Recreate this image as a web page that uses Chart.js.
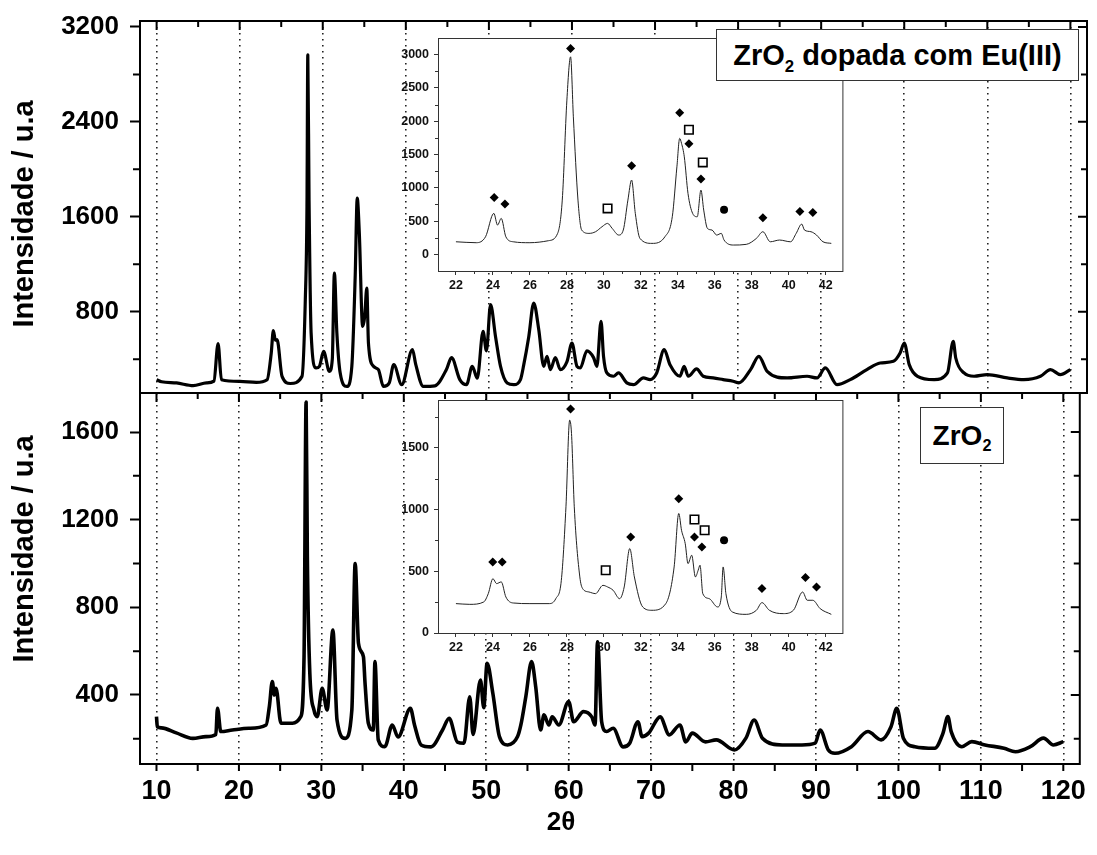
<!DOCTYPE html>
<html>
<head>
<meta charset="utf-8">
<script src="https://cdn.jsdelivr.net/npm/chart.js@4.4.1/dist/chart.umd.min.js"></script>
<style>
  body { margin: 0; background: #fff; }
  #wrap { position: relative; width: 1097px; height: 855px; overflow: hidden; font-family: "Liberation Sans", Arial, sans-serif; }
  canvas { position: absolute; }
  .lbl { position: absolute; font-weight: bold; color: #000; white-space: nowrap; }
  .ytitle { font-size: 29px; transform: translate(-50%, -50%) rotate(-90deg); }
  .box { position: absolute; background: #fff; border: 1px solid #333; display: flex; align-items: center; justify-content: center; font-weight: bold; color: #000; white-space: nowrap; }
  .box sub { font-size: 0.58em; vertical-align: -0.4em; line-height: 0; }
</style>
</head>
<body>
<div id="wrap">
  <canvas id="topChart" width="1097" height="396" style="left:0;top:0"></canvas>
  <canvas id="bottomChart" width="1097" height="462" style="left:0;top:393px"></canvas>
  <canvas id="inset1" width="458" height="270" style="left:392px;top:30px"></canvas>
  <canvas id="inset2" width="458" height="270" style="left:392px;top:392px"></canvas>
  <div class="box" style="left:716px;top:29px;width:361px;height:50px;font-size:29px"><span>ZrO<sub>2</sub> dopada com Eu(III)</span></div>
  <div class="box" style="left:920px;top:407px;width:82px;height:55px;font-size:28px"><span>ZrO<sub>2</sub></span></div>
  <div class="lbl ytitle" style="left:23px;top:214px">Intensidade / u.a</div>
  <div class="lbl ytitle" style="left:23px;top:549px">Intensidade / u.a</div>
  <div class="lbl" style="left:561px;top:821px;font-size:26px;transform:translate(-50%,-50%)">2θ</div>
</div>
<script>
// XRD scans: [2theta, intensity]
const dopedScan = [
  [10, 227], [10.6, 210], [12.4, 200], [14.4, 177], [16, 200], [16.9, 215], [17.4, 531], [17.8, 227],
  [20, 213], [22, 205], [23.3, 227], [23.8, 452], [24.05, 640], [24.3, 560], [24.5, 564], [25.1, 255],
  [26.1, 195], [27.5, 255], [27.9, 901], [28.1, 1687], [28.2, 2964], [28.35, 1743], [28.6, 620],
  [29.2, 326], [29.6, 340], [30.1, 465], [30.8, 297], [31.15, 400], [31.4, 1126], [31.7, 620],
  [32.1, 283], [32.9, 170], [33.5, 340], [33.9, 1086], [34.15, 1757], [34.4, 1465], [34.8, 676],
  [35.05, 760], [35.3, 999], [35.5, 536], [36.1, 340], [36.7, 312], [37.3, 170], [38, 200],
  [38.55, 355], [39.5, 185], [40.8, 480], [41.2, 354], [42.1, 170], [43.5, 175], [44.9, 315],
  [45.5, 413], [46.5, 228], [47.3, 185], [48, 340], [48.6, 240], [49.3, 634], [49.7, 470],
  [50.2, 859], [50.8, 590], [51.4, 340], [52.2, 200], [53, 185], [53.8, 228], [54.2, 354],
  [54.8, 590], [55.4, 873], [56, 650], [56.6, 340], [57, 424], [57.4, 312], [58, 413], [58.6, 312],
  [59.4, 380], [60, 536], [60.6, 340], [61, 326], [61.8, 470], [62.6, 413], [63, 340], [63.5, 718],
  [63.8, 424], [64.2, 284], [65, 256], [65.6, 284], [66.6, 200], [67.4, 185], [68.6, 242],
  [69.4, 228], [70.2, 284], [71.1, 480], [71.8, 354], [73, 256], [73.5, 340], [74, 256], [75, 318],
  [75.8, 256], [77, 242], [78.2, 228], [79.4, 214], [80.1, 200], [81.5, 312], [82.5, 424],
  [83.5, 298], [85.9, 242], [88.3, 256], [89.5, 242], [90.5, 326], [91.9, 186], [93.5, 228],
  [95.5, 312], [97.1, 368], [98.7, 382], [99.5, 452], [100, 536], [100.6, 354], [101.6, 256],
  [103.6, 228], [105.2, 284], [105.9, 550], [106.2, 410], [107.2, 284], [108.4, 256], [110, 270],
  [112.4, 242], [114.4, 228], [116.4, 256], [117.6, 312], [118.8, 270], [120, 312]
];

const pureScan = [
  [10, 301], [10.1, 255], [10.6, 250], [12.4, 227], [14.4, 202], [16, 210], [17.2, 220], [17.4, 339],
  [17.8, 233], [19.2, 240], [21.2, 248], [23.3, 263], [23.7, 350], [24.05, 461], [24.3, 400],
  [24.5, 430], [25.1, 271], [26.5, 271], [27.5, 301], [27.9, 575], [28.15, 1737], [28.3, 1030],
  [28.6, 500], [29.1, 332], [29.5, 301], [30.1, 430], [30.7, 332], [31.4, 696], [31.9, 286],
  [32.9, 202], [33.7, 332], [34.1, 1000], [34.5, 636], [35.1, 575], [35.3, 453], [35.7, 271],
  [36.3, 240], [36.5, 552], [36.9, 195], [37.7, 164], [38.6, 263], [39.3, 208], [40.8, 339],
  [41.3, 263], [42.1, 172], [43.3, 163], [44.7, 240], [45.5, 294], [46.5, 185], [47.3, 180],
  [48, 392], [48.4, 220], [49.3, 468], [49.7, 342], [50.1, 545], [50.8, 408], [51.6, 210],
  [52.6, 172], [53.8, 210], [54.2, 263], [54.8, 392], [55.5, 552], [56, 438], [56.6, 240],
  [57, 309], [57.6, 263], [58, 300], [58.8, 263], [60, 370], [60.6, 278], [61.8, 324], [62.8, 300],
  [63.2, 263], [63.5, 643], [64, 278], [64.6, 233], [65.4, 248], [66.6, 163], [67.4, 180],
  [68.4, 278], [68.9, 210], [69.7, 226], [71.1, 300], [72.2, 218], [73.5, 263], [74.2, 186],
  [75, 226], [76.6, 186], [77.9, 195], [80.1, 149], [81.5, 203], [82.5, 286], [83.5, 203],
  [85.9, 172], [88.3, 172], [89.9, 180], [90.5, 240], [91.5, 149], [92.3, 134], [94.3, 164],
  [96.3, 233], [97.9, 195], [99.1, 255], [99.8, 339], [100.6, 203], [102, 164], [104.4, 157],
  [105.4, 225], [106, 301], [106.4, 233], [107.7, 164], [108.9, 187], [110.5, 172], [112.8, 157],
  [114.2, 141], [116, 164], [117.6, 203], [118.8, 172], [120, 187]
];

// insets: zoom 22-42
const dopedZoomX = [22.0, 23.1, 23.6, 24.05, 24.25, 24.45, 24.7, 25.1, 26.0, 27.0, 27.5, 27.75, 28.0, 28.2,
  28.35, 28.6, 28.8, 29.2, 29.55, 29.9, 30.2, 30.45, 30.8, 31.05, 31.3, 31.5, 31.7, 31.95, 32.6, 33.3,
  33.7, 33.95, 34.1, 34.2, 34.35, 34.55, 34.8, 35.05, 35.25, 35.4, 35.6, 35.85, 36.1, 36.35, 36.5,
  37.0, 37.7, 38.25, 38.6, 39.0, 39.5, 40.1, 40.4, 40.7, 40.85, 41.2, 41.5, 41.85, 42.3];
const dopedZoomY = [189, 175, 264, 616, 440, 540, 264, 189, 175, 205, 315, 815, 2317, 2967,
  2066, 815, 365, 315, 340, 415, 465, 390, 290, 365, 815, 1116, 616, 240, 165, 264,
  565, 1315, 1742, 1667, 1465, 915, 616, 565, 965, 665, 390, 365, 290, 315, 215,
  140, 150, 240, 340, 189, 215, 189, 315, 455, 365, 340, 290, 189, 165];

const pureZoomX = [22.0, 22.75, 23.5, 23.75, 24.0, 24.2, 24.45, 24.7, 25.1, 26.0, 27.05, 27.4, 27.7, 27.95,
  28.15, 28.25, 28.4, 28.7, 28.85, 29.2, 29.55, 29.95, 30.2, 30.5, 30.85, 31.1, 31.4, 31.65, 32.1, 32.6,
  33.35, 33.8, 34.05, 34.2, 34.4, 34.55, 34.75, 34.95, 35.1, 35.2, 35.35, 35.7, 36.15, 36.35, 36.45,
  36.6, 36.95, 37.7, 38.25, 38.55, 38.95, 39.7, 40.25, 40.75, 41.0, 41.3, 41.7, 42.3];
const pureZoomY = [238, 232, 251, 319, 440, 400, 414, 292, 243, 238, 238, 278, 427, 1022,
  1724, 1616, 1022, 454, 360, 332, 319, 386, 373, 346, 278, 373, 684, 454, 211, 184,
  238, 535, 968, 832, 724, 562, 630, 454, 508, 549, 319, 278, 211, 292, 535,
  319, 170, 151, 184, 246, 184, 157, 184, 332, 265, 265, 197, 151];

// phase markers
const dopedDiamondX = [24.07, 24.65, 28.2, 31.5, 34.1, 34.6, 35.25, 38.6, 40.6, 41.3];
const dopedDiamondY = [855, 755, 3093, 1330, 2126, 1661, 1131, 550, 645, 630];
const dopedSquareX = [30.2, 34.6, 35.35];
const dopedSquareY = [690, 1871, 1381];
const dopedDotX = [36.5];
const dopedDotY = [670];

const pureDiamondX = [23.99, 24.5, 28.2, 31.45, 34.05, 34.9, 35.3, 38.55, 40.9, 41.5];
const pureDiamondY = [576, 576, 1814, 778, 1087, 778, 697, 360, 449, 373];
const pureSquareX = [30.1, 34.9, 35.45];
const pureSquareY = [508, 919, 832];
const pureDotX = [36.5];
const pureDotY = [751];

// tick labels
const mainXTicks = [10, 20, 30, 40, 50, 60, 70, 80, 90, 100, 110, 120];
const dopedYTicks = [800, 1600, 2400, 3200];
const pureYTicks = [400, 800, 1200, 1600];
const zoomXTicks = [22, 24, 26, 28, 30, 32, 34, 36, 38, 40, 42];
const dopedZoomYTicks = [0, 500, 1000, 1500, 2000, 2500, 3000];
const pureZoomYTicks = [0, 500, 1000, 1500];

const FONT = "'Liberation Sans', Arial, sans-serif";
const num = v => String(v);
const pairs = arr => arr.map(p => ({ x: p[0], y: p[1] }));
const zip = (xs, ys) => xs.map((x, i) => ({ x: x, y: ys[i] }));
const fixTicks = list => axis => { axis.ticks = list.map(v => ({ value: v })); };
// fixed axis width, and no extra room reserved for the end labels
const fixWidth = w => s => { s.width = w; s.paddingTop = 0; s.paddingBottom = 0; };

// frame + mirror / minor ticks for the two main panels
function mainFrame(opts) {
  return {
    id: 'mainFrame',
    afterDraw(chart) {
      const { ctx, chartArea: a } = chart;
      const xs = chart.scales.x, ys = chart.scales.y;
      ctx.save();
      ctx.strokeStyle = '#000';
      ctx.lineWidth = 2;
      ctx.strokeRect(a.left, a.top, a.right - a.left, a.bottom - a.top);
      ctx.beginPath();
      for (let v = 10; v <= 120; v += 5) {
        const px = xs.getPixelForValue(v);
        const major = v % 10 === 0;
        if (opts.topIn) {
          ctx.moveTo(px, a.top);
          ctx.lineTo(px, a.top + (major ? 9 : 6));
        }
        if (opts.bottomOut) {
          ctx.moveTo(px, a.bottom);
          ctx.lineTo(px, a.bottom + 7);
        }
      }
      const half = opts.yStep / 2;
      for (let v = half; v < ys.max; v += half) {
        if (v < ys.min) continue;
        const py = ys.getPixelForValue(v);
        const major = v % opts.yStep === 0;
        if (!major) {
          ctx.moveTo(a.left, py);
          ctx.lineTo(a.left - 7, py);
        }
        ctx.moveTo(a.right, py);
        ctx.lineTo(a.right - (major ? 9 : 6), py);
      }
      ctx.stroke();
      ctx.restore();
    }
  };
}

function insetFrame(yStep) {
  return {
    id: 'insetFrame',
    beforeDraw(chart) {
      const { ctx, chartArea: a } = chart;
      ctx.save();
      ctx.fillStyle = '#fff';
      ctx.fillRect(a.left, a.top, a.right - a.left, a.bottom - a.top);
      ctx.restore();
    },
    afterDraw(chart) {
      const { ctx, chartArea: a } = chart;
      const xs = chart.scales.x, ys = chart.scales.y;
      ctx.save();
      ctx.strokeStyle = '#333';
      ctx.lineWidth = 1;
      ctx.strokeRect(a.left + 0.5, a.top + 0.5, a.right - a.left, a.bottom - a.top);
      ctx.beginPath();
      for (let v = 23; v <= 41; v += 2) {
        const px = Math.round(xs.getPixelForValue(v)) + 0.5;
        ctx.moveTo(px, a.bottom);
        ctx.lineTo(px, a.bottom + 3);
      }
      for (let v = yStep / 2; v < ys.max; v += yStep) {
        const py = Math.round(ys.getPixelForValue(v)) + 0.5;
        ctx.moveTo(a.left, py);
        ctx.lineTo(a.left - 3, py);
      }
      ctx.stroke();
      ctx.restore();
    }
  };
}

function mainChart(id, scan, yMin, yMax, yTicks, yStep, isBottom) {
  return new Chart(document.getElementById(id), {
    type: 'line',
    data: {
      datasets: [{
        data: pairs(scan),
        borderColor: '#000',
        borderWidth: isBottom ? 3.6 : 3.2,
        pointRadius: 0,
        cubicInterpolationMode: 'monotone',
        borderJoinStyle: 'round'
      }]
    },
    options: {
      responsive: false,
      animation: false,
      events: [],
      layout: { padding: { top: isBottom ? 0 : 21, right: 10, bottom: isBottom ? 0 : 3, left: 0 } },
      plugins: { legend: { display: false }, tooltip: { enabled: false } },
      scales: {
        x: {
          type: 'linear',
          min: 8,
          max: 122,
          afterBuildTicks: fixTicks(mainXTicks),
          ticks: {
            display: isBottom,
            autoSkip: false,
            maxRotation: 0,
            padding: 11,
            color: '#000',
            font: { family: FONT, size: 27, weight: 'bold' },
            callback: num
          },
          grid: { drawTicks: false, color: '#222', lineWidth: 1.6 },
          border: { display: false, dash: [1.6, 4.4] },
          afterFit: s => { s.height = isBottom ? 91 : 0; }
        },
        y: {
          min: yMin,
          max: yMax,
          afterBuildTicks: fixTicks(yTicks),
          ticks: {
            autoSkip: false,
            padding: 11,
            color: '#000',
            font: { family: FONT, size: 26, weight: 'bold' },
            callback: num
          },
          grid: { drawOnChartArea: false, drawTicks: true, tickLength: 10, tickWidth: 2, tickColor: '#000' },
          border: { display: false },
          afterFit: fixWidth(140)
        }
      }
    },
    plugins: [mainFrame({ topIn: true, bottomOut: isBottom, yStep: yStep })]
  });
}

function insetChart(id, xs, ys, marks, yMin, yMax, yTicks, padRight) {
  return new Chart(document.getElementById(id), {
    type: 'line',
    data: {
      datasets: [
        { data: zip(xs, ys), borderColor: '#222', borderWidth: 1, pointRadius: 0, cubicInterpolationMode: 'monotone' },
        { data: zip(marks.dx, marks.dy), showLine: false, pointStyle: 'rectRot', pointRadius: 4.5,
          backgroundColor: '#000', borderColor: '#000', borderWidth: 0 },
        { data: zip(marks.sx, marks.sy), showLine: false, pointStyle: 'rect', pointRadius: 6,
          backgroundColor: '#fff', borderColor: '#000', borderWidth: 1.6 },
        { data: zip(marks.cx, marks.cy), showLine: false, pointStyle: 'circle', pointRadius: 4,
          backgroundColor: '#000', borderColor: '#000', borderWidth: 0 }
      ]
    },
    options: {
      responsive: false,
      animation: false,
      events: [],
      layout: { padding: { top: 8, right: padRight, bottom: 0, left: 0 } },
      plugins: { legend: { display: false }, tooltip: { enabled: false } },
      scales: {
        x: {
          type: 'linear',
          min: 21.03,
          max: 42.9,
          afterBuildTicks: fixTicks(zoomXTicks),
          ticks: {
            autoSkip: false,
            maxRotation: 0,
            padding: 3,
            color: '#111',
            font: { family: FONT, size: 12.5, weight: 'bold' },
            callback: num
          },
          grid: { drawOnChartArea: false, drawTicks: true, tickLength: 4, tickWidth: 1, tickColor: '#333' },
          border: { display: false },
          afterFit: s => { s.height = 29; }
        },
        y: {
          min: yMin,
          max: yMax,
          afterBuildTicks: fixTicks(yTicks),
          ticks: {
            autoSkip: false,
            padding: 5,
            color: '#111',
            font: { family: FONT, size: 12.5, weight: 'bold' },
            callback: num
          },
          grid: { drawOnChartArea: false, drawTicks: true, tickLength: 4, tickWidth: 1, tickColor: '#333' },
          border: { display: false },
          afterFit: fixWidth(46)
        }
      }
    },
    plugins: [insetFrame(500)]
  });
}

mainChart('topChart', dopedScan, 115, 3250, dopedYTicks, 800, false);
mainChart('bottomChart', pureScan, 85, 1778, pureYTicks, 400, true);

insetChart('inset1', dopedZoomX, dopedZoomY, {
  dx: dopedDiamondX, dy: dopedDiamondY,
  sx: dopedSquareX, sy: dopedSquareY,
  cx: dopedDotX, cy: dopedDotY
}, -250, 3250, dopedZoomYTicks, 4);

insetChart('inset2', pureZoomX, pureZoomY, {
  dx: pureDiamondX, dy: pureDiamondY,
  sx: pureSquareX, sy: pureSquareY,
  cx: pureDotX, cy: pureDotY
}, 0, 1887, pureZoomYTicks, 6);
</script>
</body>
</html>
